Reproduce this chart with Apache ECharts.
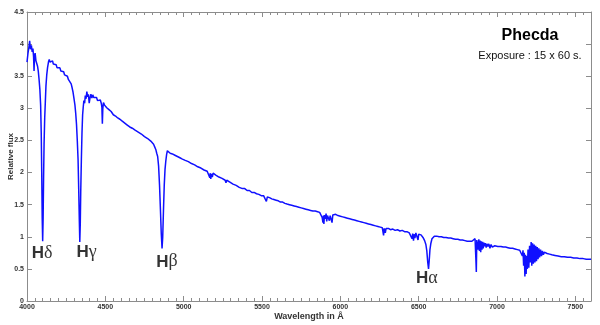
<!DOCTYPE html>
<html>
<head>
<meta charset="utf-8">
<script src="https://cdn.jsdelivr.net/npm/echarts@6/dist/echarts.min.js"></script>
<style>
  html, body { margin: 0; padding: 0; background: #fff; }
  #chart { width: 600px; height: 325px; }
</style>
</head>
<body>
<div id="chart"></div>
<script>
var starName = 'Phecda';
var exposure = 'Exposure : 15 x 60 s.';

// wavelength (Angstrom) and relative flux
var wavelength = [
  4000,4006,4012,4017,4022,4028,4033,4038,4042,4045,4048,4052,4057,4062,4067,4072,4077,4082,4087,4091,
  4094,4097,4100,4103,4106,4109,4113,4117,4121,4126,4131,4137,4142,4147,4152,4158,4163,4168,4174,4180,
  4186,4192,4198,4204,4210,4216,4222,4228,4234,4240,4246,4252,4258,4264,4270,4276,4282,4288,4294,4300,
  4306,4311,4316,4321,4326,4330,4334,4337,4340,4343,4347,4351,4355,4359,4363,4368,4372,4377,4382,4387,
  4392,4397,4402,4408,4414,4420,4426,4432,4438,4444,4450,4456,4462,4468,4474,4478,4481,4484,4488,4495,
  4502,4509,4516,4523,4530,4537,4544,4551,4558,4565,4572,4579,4586,4593,4600,4608,4616,4624,4632,4640,
  4648,4656,4664,4672,4680,4690,4700,4710,4720,4730,4740,4750,4760,4770,4780,4790,4800,4808,4815,4822,
  4828,4834,4840,4846,4852,4857,4862,4866,4871,4876,4881,4886,4891,4896,4902,4908,4914,4920,4928,4936,
  4944,4952,4960,4968,4976,4984,4992,5000,5010,5020,5030,5040,5050,5060,5070,5080,5090,5100,5110,5120,
  5130,5140,5150,5160,5167,5170,5173,5177,5183,5188,5196,5205,5215,5225,5235,5245,5255,5265,5270,5275,
  5285,5295,5305,5315,5325,5335,5345,5355,5365,5375,5390,5405,5420,5435,5450,5465,5480,5495,5510,5522,
  5528,5534,5548,5562,5576,5590,5604,5618,5632,5646,5660,5675,5690,5705,5720,5735,5750,5765,5780,5795,
  5810,5825,5840,5855,5868,5876,5884,5889,5892,5895,5899,5904,5909,5913,5918,5925,5930,5935,5942,5947,
  5952,5960,5970,5985,6000,6015,6030,6045,6060,6075,6090,6105,6120,6135,6150,6165,6180,6195,6210,6225,
  6240,6255,6268,6276,6280,6287,6292,6300,6307,6320,6335,6350,6365,6380,6395,6410,6425,6440,6452,6458,
  6462,6467,6471,6476,6482,6490,6496,6500,6508,6515,6522,6530,6538,6546,6552,6558,6563,6567,6572,6578,
  6585,6592,6600,6615,6630,6645,6660,6675,6690,6705,6720,6735,6750,6765,6780,6795,6810,6825,6840,6852,
  6860,6866,6868,6871,6876,6880,6884,6888,6892,6896,6900,6904,6908,6912,6916,6921,6926,6931,6936,6942,
  6948,6955,6962,6970,6978,6986,6995,7005,7015,7025,7040,7055,7070,7085,7100,7115,7130,7145,7155,7162,
  7166,7170,7174,7178,7182,7186,7190,7194,7198,7203,7208,7213,7218,7222,7227,7232,7237,7242,7247,7252,
  7257,7262,7267,7272,7278,7284,7290,7296,7302,7310,7320,7335,7350,7370,7390,7410,7430,7450,7470,7490,
  7510,7530,7550,7570,7590,7600
];
var flux = [
  3.72,3.85,3.95,4.05,3.92,3.98,3.88,3.93,3.80,3.58,3.82,3.86,3.74,3.76,3.66,3.58,3.45,3.30,3.05,2.60,
  2.00,1.30,0.93,1.30,1.95,2.45,2.85,3.10,3.35,3.52,3.63,3.72,3.76,3.72,3.74,3.70,3.74,3.69,3.70,3.66,
  3.68,3.63,3.66,3.61,3.63,3.58,3.60,3.55,3.57,3.52,3.54,3.49,3.50,3.45,3.46,3.42,3.38,3.32,3.25,3.15,
  3.05,2.92,2.75,2.50,2.20,1.75,1.25,0.92,1.20,1.70,2.20,2.62,2.90,3.02,3.12,3.08,3.20,3.15,3.26,3.18,
  3.22,3.08,3.16,3.22,3.16,3.21,3.17,3.20,3.14,3.17,3.12,3.15,3.10,3.13,3.08,3.02,2.76,3.00,3.09,3.05,
  3.07,3.01,3.03,2.98,3.00,2.95,2.97,2.90,2.93,2.88,2.90,2.85,2.87,2.83,2.84,2.80,2.81,2.77,2.78,2.74,
  2.75,2.71,2.72,2.69,2.70,2.66,2.67,2.63,2.63,2.60,2.60,2.56,2.56,2.53,2.52,2.49,2.47,2.44,2.40,2.36,
  2.30,2.25,2.10,1.80,1.40,1.05,0.82,0.98,1.40,1.80,2.05,2.18,2.28,2.34,2.31,2.34,2.30,2.32,2.29,2.31,
  2.27,2.29,2.25,2.27,2.23,2.25,2.21,2.22,2.19,2.20,2.17,2.17,2.14,2.15,2.12,2.12,2.09,2.10,2.07,2.07,
  2.04,2.05,2.02,2.01,1.92,1.99,1.90,1.98,1.93,1.99,1.98,1.96,1.97,1.93,1.94,1.91,1.91,1.88,1.84,1.88,
  1.87,1.85,1.84,1.82,1.82,1.80,1.80,1.77,1.77,1.75,1.75,1.72,1.72,1.69,1.69,1.67,1.66,1.64,1.64,1.62,
  1.55,1.62,1.61,1.59,1.58,1.57,1.56,1.54,1.54,1.52,1.51,1.50,1.49,1.48,1.47,1.46,1.45,1.44,1.43,1.42,
  1.41,1.40,1.40,1.39,1.38,1.37,1.30,1.22,1.33,1.20,1.34,1.28,1.36,1.24,1.33,1.35,1.25,1.33,1.36,1.22,
  1.34,1.36,1.35,1.33,1.32,1.31,1.30,1.29,1.28,1.27,1.26,1.25,1.24,1.23,1.22,1.21,1.20,1.19,1.18,1.17,
  1.16,1.15,1.14,1.02,1.13,1.06,1.13,1.10,1.13,1.11,1.12,1.10,1.11,1.09,1.10,1.08,1.08,1.06,1.05,0.97,
  1.05,0.94,1.04,0.98,1.06,1.03,0.95,1.04,1.06,1.03,1.00,0.98,0.94,0.88,0.78,0.60,0.50,0.62,0.80,0.90,
  0.97,1.00,1.01,1.01,1.00,1.00,0.99,0.99,0.98,0.98,0.97,0.96,0.96,0.95,0.95,0.94,0.93,0.93,0.93,0.94,
  0.97,0.60,0.45,0.95,0.97,0.80,0.96,0.78,0.94,0.76,0.93,0.80,0.92,0.82,0.91,0.85,0.90,0.83,0.89,0.85,
  0.89,0.82,0.88,0.84,0.87,0.86,0.87,0.85,0.86,0.85,0.84,0.84,0.83,0.82,0.82,0.81,0.80,0.79,0.78,0.70,
  0.79,0.55,0.75,0.38,0.72,0.42,0.70,0.50,0.80,0.52,0.86,0.60,0.92,0.55,0.90,0.58,0.88,0.60,0.86,0.62,
  0.84,0.65,0.82,0.68,0.80,0.70,0.78,0.72,0.76,0.74,0.74,0.73,0.72,0.71,0.70,0.69,0.69,0.68,0.68,0.67,
  0.67,0.66,0.66,0.65,0.65,0.65
];

// Balmer line labels
var lineNames = ['δ', 'γ', 'β', 'α'];
var lineLabelX = [4096, 4380, 4893, 6552];
var lineLabelY = [0.76, 0.78, 0.63, 0.37];

var xTicks = [4000, 7600, 500];
var yTicks = [0, 4.5, 0.5];

var chart = echarts.init(document.getElementById('chart'));

var spectrum = [];
for (var i = 0; i < wavelength.length; i++) {
  spectrum.push([wavelength[i], flux[i]]);
}
var labels = [];
for (var j = 0; j < lineNames.length; j++) {
  labels.push({ value: [lineLabelX[j], lineLabelY[j]], greek: lineNames[j] });
}

var axisGray = '#8c8c8c';
var labelStyle = { fontFamily: 'Liberation Sans', fontSize: 7, fontWeight: 'bold', color: '#333' };
var plainNumber = function (v) { return String(v); };

option = {
  animation: false,
  title: [{
    text: starName,
    left: 525,
    top: 23,
    textAlign: 'center',
    textStyle: { fontFamily: 'Liberation Sans', fontSize: 16, fontWeight: 'bold', color: '#000' }
  }, {
    text: exposure,
    left: 525,
    top: 45,
    textAlign: 'center',
    textStyle: { fontFamily: 'Liberation Sans', fontSize: 11, fontWeight: 'normal', color: '#111' }
  }],
  grid: { left: 27, right: 9, top: 12, bottom: 24, containLabel: false, outerBoundsMode: 'none' },
  xAxis: [{
    type: 'value',
    min: xTicks[0], max: xTicks[1], interval: xTicks[2],
    name: 'Wavelength in Å',
    nameLocation: 'middle',
    nameGap: 11,
    nameMoveOverlap: false,
    nameTextStyle: { fontFamily: 'Liberation Sans', fontSize: 9, fontWeight: 'bold', color: '#333' },
    axisLine: { onZero: false, lineStyle: { color: axisGray, width: 1 } },
    axisTick: { show: true, inside: true, length: 5, lineStyle: { color: axisGray } },
    minorTick: { show: true, splitNumber: 10, length: 3, lineStyle: { color: axisGray } },
    axisLabel: Object.assign({ margin: 3, showMaxLabel: false, formatter: plainNumber }, labelStyle),
    splitLine: { show: false }
  }, {
    type: 'value',
    position: 'top',
    min: xTicks[0], max: xTicks[1], interval: xTicks[2],
    axisLine: { show: true, onZero: false, lineStyle: { color: axisGray, width: 1 } },
    axisTick: { show: true, inside: true, length: 5, lineStyle: { color: axisGray } },
    minorTick: { show: true, splitNumber: 10, length: 3, lineStyle: { color: axisGray } },
    axisLabel: { show: false },
    splitLine: { show: false }
  }],
  yAxis: [{
    type: 'value',
    min: yTicks[0], max: yTicks[1], interval: yTicks[2],
    name: 'Relative flux',
    nameLocation: 'middle',
    nameGap: 12,
    nameMoveOverlap: false,
    nameTextStyle: { fontFamily: 'Liberation Sans', fontSize: 8, fontWeight: 'bold', color: '#333' },
    axisLine: { show: true, onZero: false, lineStyle: { color: axisGray, width: 1 } },
    axisTick: { show: true, inside: true, length: 5, lineStyle: { color: axisGray } },
    axisLabel: Object.assign({ margin: 3, formatter: plainNumber }, labelStyle),
    splitLine: { show: false }
  }, {
    type: 'value',
    position: 'right',
    min: yTicks[0], max: yTicks[1], interval: yTicks[2],
    axisLine: { show: true, onZero: false, lineStyle: { color: axisGray, width: 1 } },
    axisTick: { show: true, inside: true, length: 5, lineStyle: { color: axisGray } },
    axisLabel: { show: false },
    splitLine: { show: false }
  }],
  series: [{
    type: 'line',
    data: spectrum,
    showSymbol: false,
    sampling: 'none',
    lineStyle: { color: '#1010ff', width: 1.5 },
    silent: true
  }, {
    type: 'scatter',
    data: labels,
    symbolSize: 0,
    silent: true,
    label: {
      show: true,
      position: 'inside',
      formatter: function (p) { return '{h|H}{g|' + p.data.greek + '}'; },
      rich: {
        h: { fontFamily: 'Liberation Sans', fontSize: 17, fontWeight: 'bold', color: '#000', lineHeight: 20, verticalAlign: 'bottom' },
        g: { fontFamily: 'Liberation Serif', fontSize: 18, fontWeight: 'normal', color: '#000', lineHeight: 20, verticalAlign: 'bottom' }
      }
    }
  }]
};
chart.setOption(option);
</script>
</body>
</html>
